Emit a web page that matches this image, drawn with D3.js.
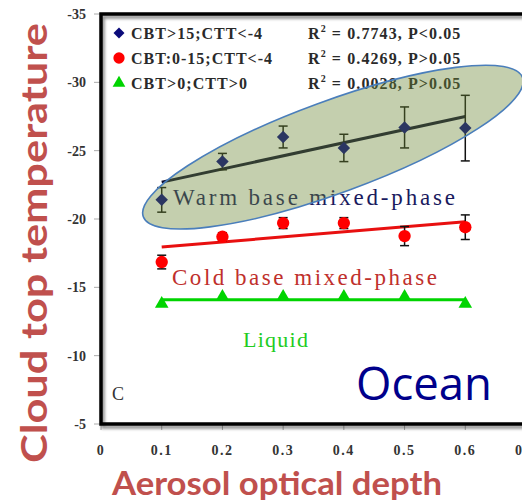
<!DOCTYPE html>
<html>
<head>
<meta charset="utf-8">
<script src="https://cdn.jsdelivr.net/npm/d3@7"></script>
<style>
  html, body { margin: 0; padding: 0; background: #fff; overflow: hidden; }
  svg { display: block; }
</style>
</head>
<body>
<svg id="chart" width="522" height="501"></svg>
<script>
// ---------- data ----------
const aod = [0.1, 0.2, 0.3, 0.4, 0.5, 0.6];
const warmCTT = [-21.4, -24.2, -26.0, -25.2, -26.7, -26.65];
const warmErr = [0.9, 0.6, 0.8, 1.0, 1.5, 2.4];
const coldCTT = [-16.85, -18.7, -19.7, -19.7, -18.75, -19.4];
const coldErr = [0.5, 0.3, 0.4, 0.4, 0.7, 0.9];
const liquidCTT = [-13.8, -14.3, -14.3, -14.3, -14.3, -13.8];
const trendX = [0.1, 0.6];
const warmTrend = [-22.7, -27.5];
const coldTrend = [-17.95, -19.8];
const liquidTrend = [-14.1, -14.1];
const xTicks = [0, 0.1, 0.2, 0.3, 0.4, 0.5, 0.6, 0.7];
const xTickLabels = ["0", "0.1", "0.2", "0.3", "0.4", "0.5", "0.6", "0.7"];
const yTicks = [-35, -30, -25, -20, -15, -10, -5];
const yTickLabels = ["-35", "-30", "-25", "-20", "-15", "-10", "-5"];
const legendLabels = ["CBT>15;CTT<-4", "CBT:0-15;CTT<-4", "CBT>0;CTT>0"];
const statLabels = [" = 0.7743, P<0.05", " = 0.4269, P>0.05", " = 0.0028, P>0.05"];
const groupLabels = ["Warm base mixed-phase", "Cold base mixed-phase", "Liquid"];

// ---------- layout ----------
const svg = d3.select("#chart");
const x = d3.scaleLinear().domain([0, 0.7]).range([101, 526]);
const y = d3.scaleLinear().domain([-5, -35]).range([424, 14]);

const C_NAVY = "#0b0b7a", C_RED = "#ff0000", C_GREEN = "#00d400";

const defs = svg.append("defs");
const sh = defs.append("filter").attr("id", "shadow").attr("x", "-5%").attr("y", "-5%").attr("width", "115%").attr("height", "115%");
sh.append("feGaussianBlur").attr("in", "SourceAlpha").attr("stdDeviation", 1.5);
sh.append("feOffset").attr("dx", 1.5).attr("dy", 2.5).attr("result", "o");
sh.append("feComponentTransfer").append("feFuncA").attr("type", "linear").attr("slope", 0.45);
const m = sh.append("feMerge"); m.append("feMergeNode"); m.append("feMergeNode").attr("in", "SourceGraphic");

// axis titles
svg.append("text")
  .attr("transform", `translate(47,${243}) rotate(-90)`)
  .attr("text-anchor", "middle")
  .attr("font-family", "Lato, 'Open Sans', sans-serif").attr("font-weight", "bold")
  .attr("font-size", 36).attr("fill", "#c0504d")
  .attr("textLength", 440).attr("lengthAdjust", "spacingAndGlyphs")
  .text("Cloud top temperature");
svg.append("text")
  .attr("x", 277).attr("y", 495)
  .attr("text-anchor", "middle")
  .attr("font-family", "Lato, 'Open Sans', sans-serif").attr("font-weight", "bold")
  .attr("font-size", 32).attr("fill", "#c0504d")
  .attr("textLength", 330).attr("lengthAdjust", "spacingAndGlyphs")
  .text("Aerosol optical depth");

// ticks and tick labels
const serif = "'Liberation Serif', 'Times New Roman', serif";
svg.append("g").selectAll("line").data(yTicks).join("line")
  .attr("x1", 94).attr("x2", 101).attr("y1", d => y(d)).attr("y2", d => y(d))
  .attr("stroke", "#aaa").attr("stroke-width", 1);
svg.append("g").selectAll("line").data(yTicks.slice(1, -1)).join("line")
  .attr("x1", 517).attr("x2", 522).attr("y1", d => y(d)).attr("y2", d => y(d))
  .attr("stroke", "#ccc").attr("stroke-width", 1);
svg.append("g").selectAll("text").data(yTicks).join("text")
  .attr("x", 86).attr("y", d => y(d) + 5).attr("text-anchor", "end")
  .attr("font-family", serif).attr("font-size", 14).attr("font-weight", "bold").attr("fill", "#333")
  .text((d, i) => yTickLabels[i]);
svg.append("g").selectAll("line").data(xTicks).join("line")
  .attr("x1", d => x(d)).attr("x2", d => x(d)).attr("y1", 424).attr("y2", 430)
  .attr("stroke", "#aaa").attr("stroke-width", 1);
svg.append("g").selectAll("text").data(xTicks).join("text")
  .attr("x", d => x(d)).attr("y", 455).attr("text-anchor", "middle")
  .attr("font-family", serif).attr("font-size", 14).attr("font-weight", "bold").attr("fill", "#333")
  .attr("letter-spacing", 1.5)
  .text((d, i) => xTickLabels[i]);

// plot frame background
svg.append("rect")
  .attr("x", x(0)).attr("y", y(-35)).attr("width", x(0.7) - x(0)).attr("height", y(-5) - y(-35))
  .attr("fill", "#fff");

const plot = svg.append("g");

// trend lines
const line = d3.line().x(d => x(d[0])).y(d => y(d[1]));
[[warmTrend, "#0c0c30", 3], [coldTrend, "#e81010", 3], [liquidTrend, C_GREEN, 3]].forEach(([t, col, w]) => {
  plot.append("path").datum(trendX.map((v, i) => [v, t[i]]))
    .attr("d", line).attr("fill", "none").attr("stroke", col).attr("stroke-width", w);
});

// error bars
function errorBars(vals, errs) {
  const g = plot.append("g").attr("stroke", "#111").attr("stroke-width", 1.5);
  aod.forEach((a, i) => {
    const lo = vals[i] + errs[i], hi = vals[i] - errs[i];
    g.append("line").attr("x1", x(a)).attr("x2", x(a)).attr("y1", y(lo)).attr("y2", y(hi));
    g.append("line").attr("x1", x(a) - 4.5).attr("x2", x(a) + 4.5).attr("y1", y(lo)).attr("y2", y(lo));
    g.append("line").attr("x1", x(a) - 4.5).attr("x2", x(a) + 4.5).attr("y1", y(hi)).attr("y2", y(hi));
  });
}
errorBars(warmCTT, warmErr);
errorBars(coldCTT, coldErr);

// markers
const diamond = d3.symbol(d3.symbolSquare, 78);
const circle = d3.symbol(d3.symbolCircle, 120);
const tri = d3.symbol(d3.symbolTriangle, 80);
plot.append("g").selectAll("path").data(aod).join("path")
  .attr("d", diamond).attr("transform", (d, i) => `translate(${x(d)},${y(warmCTT[i])}) rotate(45)`)
  .attr("fill", "#000080");
plot.append("g").selectAll("path").data(aod).join("path")
  .attr("d", circle).attr("transform", (d, i) => `translate(${x(d)},${y(coldCTT[i])})`)
  .attr("fill", C_RED);
plot.append("g").selectAll("path").data(aod).join("path")
  .attr("d", tri).attr("transform", (d, i) => `translate(${x(d)},${y(liquidCTT[i])})`)
  .attr("fill", C_GREEN);

// group labels
plot.append("text").attr("x", 173).attr("y", 205)
  .attr("font-family", serif).attr("font-size", 23).attr("fill", "#1a1a5e")
  .attr("textLength", 282).attr("lengthAdjust", "spacing").text(groupLabels[0]);
plot.append("text").attr("x", 172).attr("y", 285)
  .attr("font-family", serif).attr("font-size", 23).attr("fill", "#c0302c")
  .attr("textLength", 265).attr("lengthAdjust", "spacing").text(groupLabels[1]);
plot.append("text").attr("x", 243).attr("y", 347)
  .attr("font-family", serif).attr("font-size", 22).attr("fill", "#22cc22")
  .attr("textLength", 65).attr("lengthAdjust", "spacing").text(groupLabels[2]);

// panel letter and region
plot.append("text").attr("x", 112).attr("y", 400)
  .attr("font-family", serif).attr("font-size", 18).attr("fill", "#333").text("C");
plot.append("text").attr("x", 356).attr("y", 400)
  .attr("font-family", "'Open Sans', sans-serif").attr("font-size", 45).attr("fill", "#00008b")
  .attr("textLength", 136).attr("lengthAdjust", "spacingAndGlyphs").text("Ocean");

// legend
const legY = [33, 58, 83];
const leg = plot.append("g");
leg.append("path").attr("d", d3.symbol(d3.symbolSquare, 60)).attr("transform", `translate(119,${legY[0]}) rotate(45)`).attr("fill", C_NAVY);
leg.append("path").attr("d", d3.symbol(d3.symbolCircle, 100)).attr("transform", `translate(119,${legY[1]})`).attr("fill", C_RED);
leg.append("path").attr("d", d3.symbol(d3.symbolTriangle, 70)).attr("transform", `translate(119,${legY[2]})`).attr("fill", C_GREEN);
const legW = [131, 141, 116];
legendLabels.forEach((t, i) => {
  leg.append("text").attr("x", 131).attr("y", legY[i] + 5.5)
    .attr("font-family", serif).attr("font-size", 16).attr("font-weight", "bold").attr("fill", "#2a2a2a")
    .attr("textLength", legW[i]).attr("lengthAdjust", "spacing").text(t);
  const st = leg.append("text").attr("x", 308).attr("y", legY[i] + 5.5)
    .attr("font-family", serif).attr("font-size", 16).attr("font-weight", "bold").attr("fill", "#2a2a2a")
    .attr("letter-spacing", 1.1);
  st.append("tspan").text("R");
  st.append("tspan").attr("font-size", 10).attr("dy", -7).text("2");
  st.append("tspan").attr("dy", 7).text(statLabels[i]);
});

// highlight ellipse (annotation) — centre in data units, size in pixels
const ellipseCentre = [0.382, -25.26];
const ellipseShape = { rx: 202, ry: 46, angle: -20.15 };
svg.append("ellipse")
  .attr("transform", `translate(${x(ellipseCentre[0])},${y(ellipseCentre[1])}) rotate(${ellipseShape.angle})`)
  .attr("rx", ellipseShape.rx).attr("ry", ellipseShape.ry)
  .attr("fill", "rgb(108,135,53)").attr("fill-opacity", 0.4)
  .attr("stroke", "#4a7ebb").attr("stroke-width", 1.6);

// frame
svg.append("rect")
  .attr("x", x(0)).attr("y", y(-35)).attr("width", x(0.7) - x(0)).attr("height", y(-5) - y(-35))
  .attr("fill", "none").attr("stroke", "#000").attr("stroke-width", 3.5)
  .attr("filter", "url(#shadow)");
</script>
</body>
</html>
